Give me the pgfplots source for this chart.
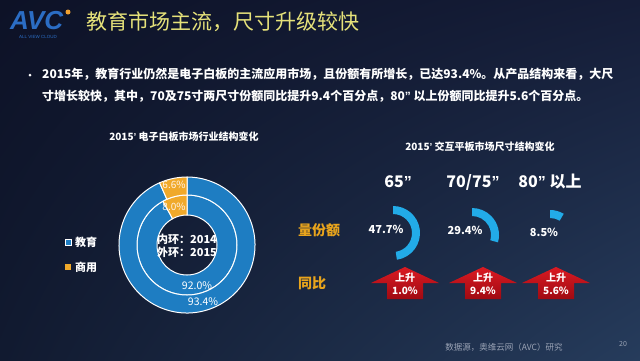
\documentclass[border=0pt]{standalone}
\usepackage{fontspec}
\setmainfont{Noto Sans CJK SC}
\newfontfamily\logofont{Liberation Sans}
\newcommand\q[1]{{\logofont #1}}
\usepackage{pgfplots}
\usepackage{pgfplotstable}
\pgfplotsset{compat=1.18}
\usetikzlibrary{calc,shadings}

\definecolor{bgTL}{HTML}{0D1227}
\definecolor{bgTR}{HTML}{151D38}
\definecolor{bgBL}{HTML}{111A30}
\definecolor{bgBR}{HTML}{263C5C}
\definecolor{titleY}{HTML}{E6E27A}
\definecolor{eduBlue}{HTML}{1E7DC2}
\definecolor{comOrange}{HTML}{F0A92A}
\definecolor{arcBlue}{HTML}{22ABE8}
\definecolor{lblOrange}{HTML}{E8A41C}
\definecolor{arrTop}{HTML}{DA1A22}
\definecolor{arrBot}{HTML}{A00A12}
\definecolor{footGray}{HTML}{9AA3B5}
\definecolor{logoBlue}{HTML}{2B6DC4}
\definecolor{logoDot}{HTML}{F0A030}

% ring data: share of education / commercial, inner ring 2014, outer ring 2015
\pgfplotstableread{
year edu  com
2014 92.0 8.0
2015 93.4 6.6
}\ringdata
% size structure of interactive panels 2015
\pgfplotstableread{
size  share yoy
65    47.7  1.0
7075  29.4  9.4
80    8.5   5.6
}\sizedata

\newcommand\sector[7]{%
  \fill[#7] ($(axis cs:#1,#2)+(#5:#4bp)$) arc[start angle=#5,end angle=#6,radius=#4bp]
    -- ($(axis cs:#1,#2)+(#6:#3bp)$) arc[start angle=#6,end angle=#5,radius=#3bp] -- cycle;}

% arrow drawn in a y-up scope (y values negated)
\newcommand\redarrow[1]{%
  \shade[top color=arrTop,bottom color=arrBot]
   (#1,-267) -- (#1+34,-283) -- (#1+18,-283) -- (#1+18,-299) -- (#1-18,-299) -- (#1-18,-283) -- (#1-34,-283) -- cycle;}

\begin{document}
\begin{tikzpicture}[x=1bp,y=-1bp]
\useasboundingbox (0,0) rectangle (640,360);
\begin{scope}[y=1bp]
\shade[upper left=bgTL,upper right=bgTR,lower left=bgBL,lower right=bgBR] (0,-360) rectangle (640,0);
\end{scope}

% read values
\pgfplotstablegetelem{0}{com}\of\ringdata \pgfmathsetmacro\comIn{90+3.6*\pgfplotsretval}
\pgfplotstablegetelem{1}{com}\of\ringdata \pgfmathsetmacro\comOut{90+3.6*\pgfplotsretval}
\pgfplotstablegetelem{0}{share}\of\sizedata \pgfmathsetmacro\shA{90-3.6*\pgfplotsretval}
\pgfplotstablegetelem{1}{share}\of\sizedata \pgfmathsetmacro\shB{90-3.6*\pgfplotsretval}
\pgfplotstablegetelem{2}{share}\of\sizedata \pgfmathsetmacro\shC{90-3.6*\pgfplotsretval}

\begin{axis}[at={(0,0)},anchor=north west,width=640bp,height=360bp,scale only axis,
  xmin=0,xmax=640,ymin=0,ymax=360,y dir=reverse,hide axis,clip=false]
  % donut: inner ring 2014
  \sector{187}{245}{30}{50}{\comIn}{450}{fill=eduBlue,draw=white,line width=1bp}
  \sector{187}{245}{30}{50}{90}{\comIn}{fill=comOrange,draw=white,line width=1bp}
  % outer ring 2015
  \sector{187}{245}{50}{68}{\comOut}{450}{fill=eduBlue,draw=white,line width=1bp}
  \sector{187}{245}{50}{68}{90}{\comOut}{fill=comOrange,draw=white,line width=1bp}
  % size share arcs
  \sector{393}{233}{19}{27}{\shA}{90}{fill=arcBlue}
  \sector{472}{235}{19}{27}{\shB}{90}{fill=arcBlue}
  \sector{550}{237}{19}{27}{\shC}{90}{fill=arcBlue}
\end{axis}

% logo
\node[anchor=west,inner sep=0,text=logoBlue,font=\logofont\bfseries\itshape\fontsize{26bp}{26bp}\selectfont] at (10,21) {AVC};
\fill[logoDot] (68,12) circle (2.5);
\node[inner sep=0,text=logoBlue,font=\logofont\fontsize{4.5bp}{5bp}\selectfont] at (38,37) {ALL VIEW CLOUD};

% title
\node[anchor=west,inner sep=0,text=titleY,font=\fontsize{21bp}{24bp}\selectfont] at (86,22) {教育市场主流，尺寸升级较快};

% bullet text
\fill[white] (30,75) circle (1.5);
\node[anchor=west,inner sep=0,text=white,font=\bfseries\fontsize{12bp}{14bp}\selectfont] at (42,74)
 {2015年，教育行业仍然是电子白板的主流应用市场，且份额有所增长，已达93.4\%。从产品结构来看，大尺};
\node[anchor=west,inner sep=0,text=white,font=\bfseries\fontsize{12bp}{14bp}\selectfont] at (42,96)
 {寸增长较快，其中，70及75寸两尺寸份额同比提升9.4个百分点，80\q{”} 以上份额同比提升5.6个百分点。};

% left chart
\node[inner sep=0,text=white,font=\bfseries\fontsize{10bp}{12bp}\selectfont] at (184,137) {2015\q{’} 电子白板市场行业结构变化};
\fill[eduBlue,draw=white,line width=0.6bp] (65,239) rectangle (71,245);
\node[anchor=west,inner sep=0,text=white,font=\bfseries\fontsize{11bp}{13bp}\selectfont] at (75,242) {教育};
\fill[comOrange] (65,264) rectangle (71,270);
\node[anchor=west,inner sep=0,text=white,font=\bfseries\fontsize{11bp}{13bp}\selectfont] at (75,267) {商用};
\node[inner sep=0,text=white,font=\bfseries\fontsize{11bp}{13bp}\selectfont] at (187,239) {内环：2014};
\node[inner sep=0,text=white,font=\bfseries\fontsize{11bp}{13bp}\selectfont] at (187,252) {外环：2015};
\node[inner sep=0,text=white!92!orange,font=\fontsize{10bp}{12bp}\selectfont] at (174,185) {6.6\%};
\node[inner sep=0,text=white!92!orange,font=\fontsize{10bp}{12bp}\selectfont] at (174,207) {8.0\%};
\node[inner sep=0,text=white,font=\fontsize{10.5bp}{12bp}\selectfont] at (197,286) {92.0\%};
\node[inner sep=0,text=white,font=\fontsize{10.5bp}{12bp}\selectfont] at (203,302) {93.4\%};

% right chart
\node[inner sep=0,text=white,font=\bfseries\fontsize{10bp}{12bp}\selectfont] at (480,147) {2015\q{’} 交互平板市场尺寸结构变化};
\node[inner sep=0,text=white,font=\bfseries\fontsize{16bp}{18bp}\selectfont] at (398,182) {65\q{”}};
\node[inner sep=0,text=white,font=\bfseries\fontsize{16bp}{18bp}\selectfont] at (473,182) {70/75\q{”}};
\node[inner sep=0,text=white,font=\bfseries\fontsize{16bp}{18bp}\selectfont] at (550,182) {80\q{”} 以上};
\node[anchor=west,inner sep=0,text=lblOrange,font=\bfseries\fontsize{14bp}{16bp}\selectfont] at (298,230) {量份额};
\node[anchor=west,inner sep=0,text=lblOrange,font=\bfseries\fontsize{14bp}{16bp}\selectfont] at (298,283) {同比};
\node[inner sep=0,text=white,font=\bfseries\fontsize{11bp}{13bp}\selectfont] at (386,229) {47.7\%};
\node[inner sep=0,text=white,font=\bfseries\fontsize{11bp}{13bp}\selectfont] at (465,230) {29.4\%};
\node[inner sep=0,text=white,font=\bfseries\fontsize{11bp}{13bp}\selectfont] at (544,232) {8.5\%};

\begin{scope}[y=1bp]
\redarrow{405}
\redarrow{483}
\redarrow{556}
\end{scope}
\foreach \cx/\v in {405/1.0,483/9.4,556/5.6}{
  \node[inner sep=0,text=white,font=\bfseries\fontsize{10bp}{12bp}\selectfont] at (\cx,278) {上升};
  \node[inner sep=0,text=white,font=\bfseries\fontsize{10bp}{12bp}\selectfont] at (\cx,291) {\v\%};
}

% footer
\node[inner sep=0,text=footGray,font=\fontsize{8.5bp}{10bp}\selectfont] at (504,347) {数据源，奥维云网（AVC）研究};
\node[inner sep=0,text=footGray,font=\fontsize{7bp}{8bp}\selectfont] at (623,344) {20};
\end{tikzpicture}
\end{document}
